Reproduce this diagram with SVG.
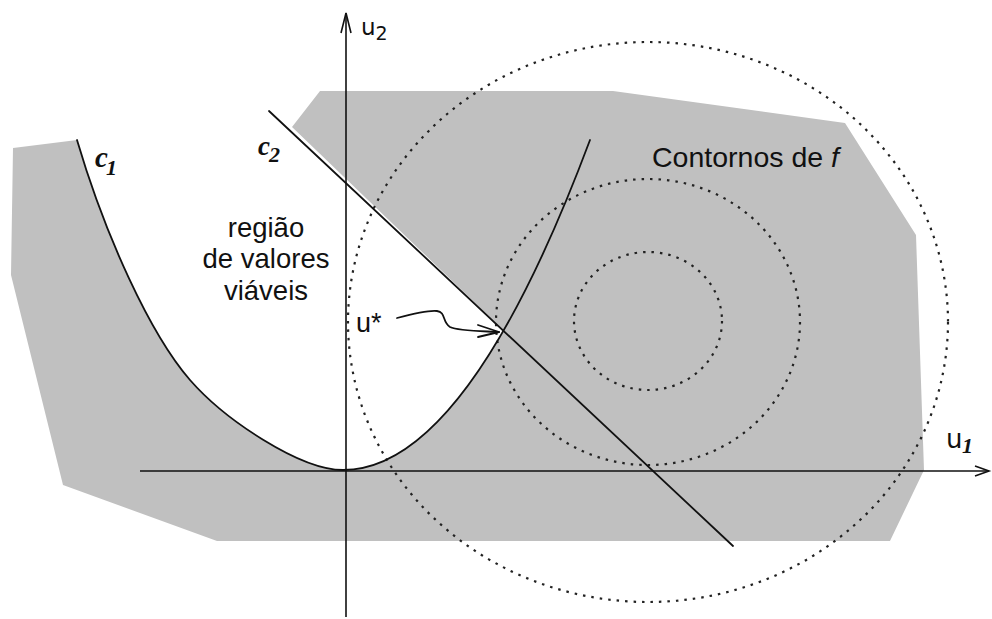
<svg xmlns="http://www.w3.org/2000/svg" width="992" height="619" viewBox="0 0 992 619">
<style>
.ln{fill:none;stroke:#111;stroke-width:1.8;stroke-linecap:round;stroke-linejoin:round}
.ax{fill:none;stroke:#111;stroke-width:1.6}
.dot{fill:none;stroke:#222;stroke-width:2.2;stroke-dasharray:2.5 6}
.sans{font-family:"Liberation Sans",Arial,sans-serif;fill:#111}
.dv{font-family:"DejaVu Sans","Liberation Sans",sans-serif;fill:#111}
.ser{font-family:"Liberation Serif","Times New Roman",serif;fill:#111;font-style:italic;font-weight:bold}
</style>
<rect width="992" height="619" fill="#fff"/>
<g id="region">
<path d="M13,148 L77,140 C105,235 150,334 190,380 C225,420 300,470 343,470 Q423.3,470 503.7,330.4 L292,127 L320,91 L613,91 L845,123 L916,235 L924,470 L890,541 L217,541 L63,485 L11,275 Z" fill="#c0c0c0"/>
</g>
<g id="contours">
<ellipse class="dot" cx="648" cy="321" rx="74" ry="69"/>
<ellipse class="dot" cx="648" cy="322" rx="152" ry="143"/>
<ellipse class="dot" cx="648" cy="322" rx="300" ry="280"/>
</g>
<g id="connectors">
<line class="ax" x1="346" y1="617" x2="346" y2="13"/>
<path class="ax" d="M341,33 L346,13 L351,33"/>
<line class="ax" x1="140" y1="471" x2="989" y2="471"/>
<path class="ax" d="M975,466 L989,471 L975,476"/>
<path id="c1" class="ln" d="M77,140 C105,235 150,334 190,380 C225,420 300,470 343,470 Q466.5,470 590,140"/>
<line id="c2" class="ln" x1="269" y1="111" x2="733" y2="546"/>
<path class="ln" stroke-width="1.5" d="M397,318 C412,314 428,310 437,311 C446,312 442,322 450,327 C458,331 480,331 499,332"/>
<path class="ln" stroke-width="1.5" d="M478,325 L499,332 L478,337"/>
</g>
<g id="labels">
<text class="dv" x="361" y="35" font-size="23">u<tspan font-size="19" dy="5">2</tspan></text>
<text class="dv" x="946" y="448" font-size="26">u</text>
<text class="ser" x="962" y="453" font-size="22">1</text>
<text class="ser" x="95" y="167" font-size="29">c</text>
<text class="ser" x="106" y="175" font-size="22">1</text>
<text class="ser" x="258" y="155" font-size="27">c</text>
<text class="ser" x="269" y="162" font-size="22">2</text>
<text class="sans" font-size="27.5" text-anchor="middle"><tspan x="266" y="237">região</tspan><tspan x="266" y="268">de valores</tspan><tspan x="266" y="300">viáveis</tspan></text>
<text class="sans" x="356" y="332" font-size="27">u*</text>
<text class="sans" x="652" y="167" font-size="28.5">Contornos de <tspan font-style="italic">f</tspan></text>
</g>
</svg>
